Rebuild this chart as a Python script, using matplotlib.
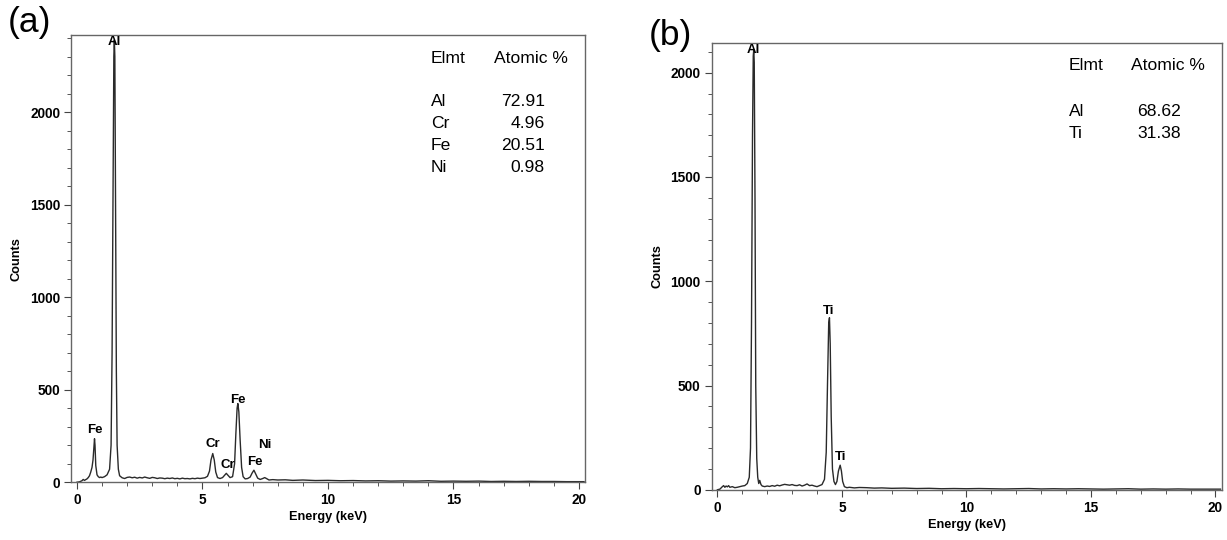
import numpy as np
import matplotlib.pyplot as plt
from matplotlib.ticker import MultipleLocator

plt.rcParams['font.family'] = ['Liberation Sans', 'DejaVu Sans']

# ---- panel (a) spectrum ----
energy_a = [0.0, 0.1, 0.2, 0.25, 0.3, 0.35, 0.4, 0.45, 0.5, 0.55, 0.6, 0.64, 0.68, 0.70, 0.72, 0.75,
	0.8, 0.85, 0.9, 0.95, 1.0, 1.1, 1.2, 1.3, 1.36, 1.40, 1.44, 1.47, 1.49, 1.51, 1.54, 1.57, 1.60,
	1.65, 1.7, 1.8, 1.9, 2.0, 2.1, 2.2, 2.3, 2.4, 2.5, 2.6, 2.7, 2.8, 2.9, 3.0, 3.1, 3.2, 3.3, 3.4,
	3.5, 3.6, 3.7, 3.8, 3.9, 4.0, 4.1, 4.2, 4.3, 4.4, 4.5, 4.6, 4.7, 4.8, 4.9, 5.0, 5.1, 5.2, 5.28,
	5.34, 5.41, 5.47, 5.53, 5.6, 5.7, 5.8, 5.9, 5.95, 6.0, 6.1, 6.2, 6.28, 6.33, 6.38, 6.41, 6.45,
	6.5, 6.56, 6.62, 6.7, 6.8, 6.9, 6.98, 7.05, 7.12, 7.2, 7.3, 7.4, 7.48, 7.55, 7.65, 7.8, 8.0,
	8.3, 8.6, 9.0, 9.5, 10.0, 10.5, 11.0, 11.5, 12.0, 12.5, 13.0, 13.5, 14.0, 14.5, 15.0, 15.5,
	16.0, 16.5, 17.0, 17.5, 18.0, 18.5, 19.0, 19.5, 20.0, 20.2]
counts_a = [0, 2, 8, 15, 10, 14, 18, 25, 35, 55, 80, 120, 200, 235, 200, 90,
	40, 30, 25, 28, 25, 30, 40, 70, 200, 700, 1600, 2300, 2390, 2300, 1500, 600, 200,
	70, 35, 24, 20, 26, 28, 24, 27, 22, 26, 23, 28, 24, 21, 26, 24, 20, 23, 22,
	19, 22, 20, 23, 19, 21, 18, 22, 19, 20, 18, 21, 19, 22, 20, 22, 24, 32, 60,
	120, 155, 120, 55, 25, 20, 25, 40, 48, 40, 25, 30, 100, 260, 400, 425, 380,
	230, 80, 30, 18, 20, 28, 50, 65, 45, 22, 15, 20, 25, 20, 12, 14, 12,
	13, 10, 12, 9, 10, 8, 9, 7, 8, 6, 7, 6, 8, 5, 6, 5,
	6, 4, 5, 4, 5, 4, 4, 3, 3, 3]

peak_names_a = ['Al', 'Fe', 'Cr', 'Cr', 'Fe', 'Fe', 'Ni']
peak_x_a = [1.5, 0.72, 5.4, 6.0, 6.4, 7.08, 7.5]
peak_y_a = [2380, 280, 205, 92, 445, 108, 200]

elements_a = ['Al', 'Cr', 'Fe', 'Ni']
atomic_a = ['72.91', '4.96', '20.51', '0.98']

# ---- panel (b) spectrum ----
energy_b = [0.0, 0.1, 0.2, 0.25, 0.3, 0.35, 0.4, 0.45, 0.5, 0.6, 0.7, 0.8, 0.9, 1.0, 1.1, 1.2,
	1.28, 1.33, 1.37, 1.41, 1.44, 1.46, 1.48, 1.51, 1.54, 1.58, 1.62, 1.66, 1.7, 1.75, 1.8, 1.9,
	2.0, 2.1, 2.2, 2.3, 2.4, 2.5, 2.6, 2.7, 2.8, 2.9, 3.0, 3.1, 3.2, 3.3, 3.4, 3.5, 3.6, 3.7,
	3.8, 3.9, 4.0, 4.1, 4.2, 4.3, 4.37, 4.42, 4.47, 4.50, 4.53, 4.57, 4.62, 4.68, 4.74, 4.8,
	4.86, 4.93, 4.98, 5.03, 5.1, 5.2, 5.3, 5.5, 5.7, 6.0, 6.3, 6.6, 7.0, 7.5, 8.0, 8.5, 9.0,
	9.5, 10.0, 10.5, 11.0, 11.5, 12.0, 12.5, 13.0, 13.5, 14.0, 14.5, 15.0, 15.5, 16.0, 16.5,
	17.0, 17.5, 18.0, 18.5, 19.0, 19.5, 20.0, 20.2]
counts_b = [0, 3, 15, 20, 12, 18, 14, 20, 12, 15, 10, 12, 15, 18, 20, 30,
	60, 200, 800, 1700, 2080, 2110, 2050, 1400, 500, 150, 60, 30, 45, 25, 18, 15,
	18, 16, 20, 17, 22, 19, 23, 26, 24, 22, 25, 21, 20, 24, 18, 22, 28, 20,
	22, 18, 15, 20, 25, 50, 180, 500, 800, 825, 700, 350, 100, 40, 25, 40,
	90, 118, 90, 40, 15, 10, 12, 9, 11, 10, 8, 9, 7, 8, 6, 7, 5,
	6, 5, 6, 5, 4, 5, 6, 4, 5, 4, 5, 4, 3, 4, 5,
	3, 4, 3, 4, 3, 3, 3, 3]

peak_names_b = ['Al', 'Ti', 'Ti']
peak_x_b = [1.45, 4.48, 4.96]
peak_y_b = [2110, 858, 158]

elements_b = ['Al', 'Ti']
atomic_b = ['68.62', '31.38']


def draw_panel(ax, energy, counts, ymax, names, px, py, elements, atomic, row_y):
	ax.plot(energy, counts, color='#2a2a2a', linewidth=1.0)
	ax.set_xlim(-0.23, 20.25)
	ax.set_ylim(0, ymax)
	ax.xaxis.set_major_locator(MultipleLocator(5))
	ax.xaxis.set_minor_locator(MultipleLocator(1))
	ax.yaxis.set_major_locator(MultipleLocator(500))
	ax.yaxis.set_minor_locator(MultipleLocator(100))
	ax.tick_params(which='major', direction='out', length=5, width=0.8, color='#444',
		labelsize=9.8, pad=3)
	ax.tick_params(which='minor', direction='out', length=3, width=0.7, color='#555')
	for lab in ax.get_xticklabels() + ax.get_yticklabels():
		lab.set_fontweight('bold')
	for side in ['left', 'bottom', 'right', 'top']:
		ax.spines[side].set_color('#666')
		ax.spines[side].set_linewidth(1.0)
	ax.set_xlabel('Energy (keV)', fontsize=9.2, fontweight='bold', labelpad=3)
	ax.set_ylabel('Counts', fontsize=9.2, fontweight='bold', labelpad=5)

	for n, x, y in zip(names, px, py):
		ax.text(x, y, n, fontsize=9.5, fontweight='bold', ha='center', va='center')

	# element table in axes fraction
	fs = 12.6
	ax.text(0.700, 0.948, 'Elmt', transform=ax.transAxes, fontsize=fs, va='center', ha='left')
	ax.text(0.822, 0.948, 'Atomic %', transform=ax.transAxes, fontsize=fs, va='center', ha='left')
	for el, val, y in zip(elements, atomic, row_y):
		ax.text(0.700, y, el, transform=ax.transAxes, fontsize=fs, va='center', ha='left')
		ax.text(0.921, y, val, transform=ax.transAxes, fontsize=fs, va='center', ha='right')


fig = plt.figure(figsize=(12.27, 5.40), dpi=100)
ax_a = fig.add_axes([0.058, 0.107, 0.419, 0.828])
ax_b = fig.add_axes([0.580, 0.093, 0.4157, 0.828])

draw_panel(ax_a, energy_a, counts_a, 2416, peak_names_a, peak_x_a, peak_y_a,
	elements_a, atomic_a, [0.852, 0.803, 0.754, 0.705])
draw_panel(ax_b, energy_b, counts_b, 2144, peak_names_b, peak_x_b, peak_y_b,
	elements_b, atomic_b, [0.846, 0.796])

fig.text(0.006, 0.958, '(a)', fontsize=25.5, va='center', ha='left')
fig.text(0.529, 0.935, '(b)', fontsize=25.5, va='center', ha='left')

fig.savefig('out.png', dpi=100)
